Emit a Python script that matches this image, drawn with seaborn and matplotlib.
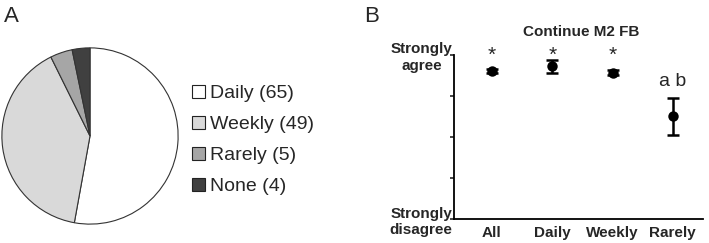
import numpy as np
import pandas as pd
import seaborn as sns
import matplotlib.pyplot as plt
from matplotlib.patches import Patch

# panel A: how often M2 feedback was used
use_labels = ['Daily', 'Weekly', 'Rarely', 'None']
use_counts = [65, 49, 5, 4]
pie_colors = ['#ffffff', '#d9d9d9', '#a6a6a6', '#404040']

# panel B: "Continue M2 FB" mean score with error
groups = ['All', 'Daily', 'Weekly', 'Rarely']
means = [4.61, 4.73, 4.57, 3.50]
errs = [0.06, 0.16, 0.06, 0.45]
marks = ['*', '*', '*', 'a b']
ylevels = [1, 2, 3, 4, 5]
ylabels = ['Strongly\ndisagree', '', '', '', 'Strongly\nagree']

sns.set_style('white')
plt.rcParams['font.family'] = ['Liberation Sans', 'DejaVu Sans']

fig = plt.figure(figsize=(7.09, 2.43), dpi=100)

# --- A: pie
axA = fig.add_axes([1/709, 1 - 225/243, 178/709, 178/243])
wedges, _ = axA.pie(use_counts, colors=pie_colors, startangle=90, counterclock=False,
                    wedgeprops=dict(edgecolor='#333333', linewidth=0.8))
axA.set_xlim(-1.01, 1.01)
axA.set_ylim(-1.01, 1.01)
axA.set_aspect('equal')
handles = [Patch(facecolor=c, edgecolor='#222222', linewidth=0.8) for c in pie_colors]
leg_labels = [f'{l} ({n})' for l, n in zip(use_labels, use_counts)]
fig.legend(handles, leg_labels, loc='center left', bbox_to_anchor=(192/709, 1 - 140/243),
           frameon=False, fontsize=14, handlelength=0.65, handleheight=0.65,
           handletextpad=0.25, labelspacing=0.71, borderpad=0, borderaxespad=0)
fig.text(4/709, 1 - 16/243, 'A', fontsize=16, va='center', ha='left')

# --- B: means with error bars
df = pd.DataFrame({'group': groups, 'score': means})
axB = fig.add_axes([454/709, 1 - 219/243, (703 - 454)/709, (219 - 55)/243])
sns.pointplot(data=df, x='group', y='score', ax=axB, color='black', marker='o',
              linestyle='none', errorbar=None, markersize=7.5, markeredgewidth=0)
axB.errorbar(np.arange(len(groups)), means, yerr=errs, fmt='none', ecolor='black',
             elinewidth=1.8, capsize=4.5, capthick=1.8)
for i, (m, e, t) in enumerate(zip(means, errs, marks)):
    if t == '*':
        axB.text(i, 5.0, t, ha='center', va='center', fontsize=15)
    else:
        axB.text(i, m + e + 0.4, t, ha='center', va='center', fontsize=14)

axB.set_ylim(1, 5)
axB.set_xlim(-0.63, 3.5)
axB.set_yticks(ylevels)
axB.set_yticklabels(ylabels, fontweight='bold', fontsize=11, multialignment='center')
axB.tick_params(axis='y', length=3, width=1.2, pad=-2, left=True)
axB.tick_params(axis='x', length=0, pad=5)
for lab in axB.get_xticklabels():
    lab.set_fontweight('bold')
    lab.set_fontsize(11)
axB.set_xlabel('')
axB.set_ylabel('')
axB.spines['top'].set_visible(False)
axB.spines['right'].set_visible(False)
axB.spines['left'].set_linewidth(1.3)
axB.spines['bottom'].set_linewidth(1.3)
axB.spines['left'].set_color('black')
axB.spines['bottom'].set_color('black')
axB.set_title('Continue M2 FB', fontweight='bold', fontsize=11, pad=14, x=0.51)
fig.text(364/709, 1 - 16/243, 'B', fontsize=16, va='center', ha='left')

fig.savefig('out.png', dpi=100)
